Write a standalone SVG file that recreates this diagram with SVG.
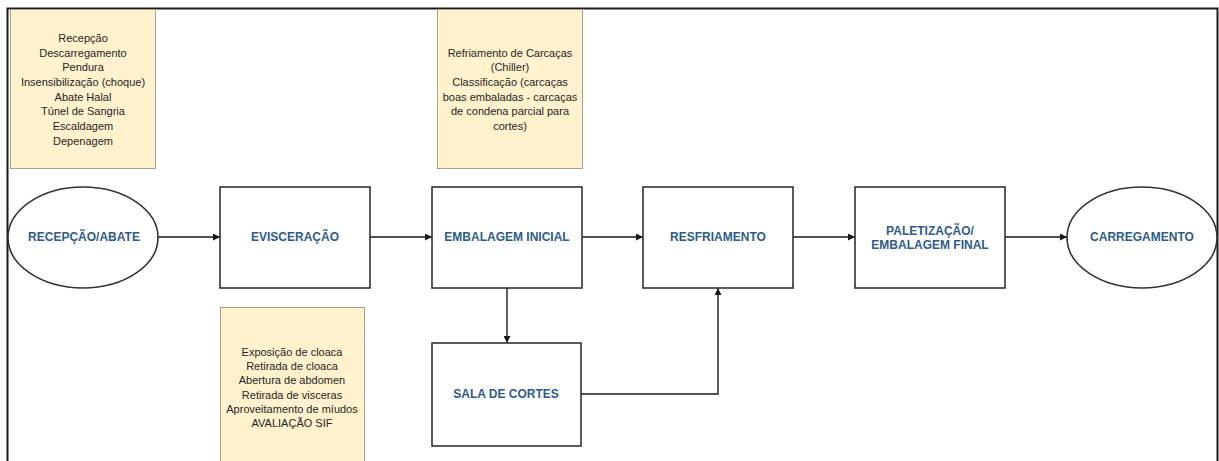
<svg xmlns="http://www.w3.org/2000/svg" width="1219" height="461" viewBox="0 0 1219 461">
<style>
.note{fill:#FFF2CC;stroke:#A6A08E;stroke-width:1}
.nt{font-family:"Liberation Sans",Arial,sans-serif;font-size:11px;fill:#262626;text-anchor:middle}
.box{fill:#FFFFFF;stroke:#333333;stroke-width:1.6}
.lbl{font-family:"Liberation Sans",Arial,sans-serif;font-size:12px;font-weight:bold;fill:#2F5B8A;text-anchor:middle}
.con{fill:none;stroke:#1A1A1A;stroke-width:1.4}
.frame{fill:none;stroke:#1A1A1A;stroke-width:2}
</style>
<defs>
<marker id="arr" viewBox="0 0 10 10" refX="10" refY="5" markerWidth="7" markerHeight="7" markerUnits="userSpaceOnUse" orient="auto">
<path d="M0,0 L10,5 L0,10 z" fill="#1A1A1A"/>
</marker>
</defs>
<rect width="1219" height="461" fill="#FFFFFF"/>
<g id="frame">
<path class="frame" d="M7.5,461 L7.5,8.5 L1217.5,8.5 L1217.5,461"/>
</g>
<g id="note-recepcao">
<rect class="note" x="10.5" y="9.5" width="145" height="159"/>
<text class="nt" x="83" y="42">Recepção</text>
<text class="nt" x="83" y="57">Descarregamento</text>
<text class="nt" x="83" y="71">Pendura</text>
<text class="nt" x="83" y="86">Insensibilização (choque)</text>
<text class="nt" x="83" y="101">Abate Halal</text>
<text class="nt" x="83" y="115">Túnel de Sangria</text>
<text class="nt" x="83" y="130">Escaldagem</text>
<text class="nt" x="83" y="145">Depenagem</text>
</g>
<g id="note-embalagem">
<rect class="note" x="437.5" y="9.5" width="145" height="159"/>
<text class="nt" x="510" y="57">Refriamento de Carcaças</text>
<text class="nt" x="510" y="71">(Chiller)</text>
<text class="nt" x="510" y="86">Classificação (carcaças</text>
<text class="nt" x="510" y="101">boas embaladas - carcaças</text>
<text class="nt" x="510" y="115">de condena parcial para</text>
<text class="nt" x="510" y="130">cortes)</text>
</g>
<g id="note-evisceracao">
<rect class="note" x="220.5" y="307.5" width="144" height="160"/>
<text class="nt" x="292" y="356">Exposição de cloaca</text>
<text class="nt" x="292" y="370">Retirada de cloaca</text>
<text class="nt" x="292" y="384">Abertura de abdomen</text>
<text class="nt" x="292" y="399">Retirada de visceras</text>
<text class="nt" x="292" y="413">Aproveitamento de míudos</text>
<text class="nt" x="292" y="427">AVALIAÇÃO SIF</text>
</g>
<g id="connectors">
<line class="con" x1="158" y1="237" x2="220" y2="237" marker-end="url(#arr)"/>
<line class="con" x1="370" y1="237" x2="432" y2="237" marker-end="url(#arr)"/>
<line class="con" x1="582" y1="237" x2="643" y2="237" marker-end="url(#arr)"/>
<line class="con" x1="793" y1="237" x2="855" y2="237" marker-end="url(#arr)"/>
<line class="con" x1="1005" y1="237" x2="1067" y2="237" marker-end="url(#arr)"/>
<line class="con" x1="507" y1="288" x2="507" y2="343" marker-end="url(#arr)"/>
<polyline class="con" points="581,394 718,394 718,288" marker-end="url(#arr)"/>
</g>
<g id="recepcao-abate">
<ellipse class="box" cx="83" cy="237.5" rx="75" ry="50.5"/>
<text class="lbl" x="84" y="241">RECEPÇÃO/ABATE</text>
</g>
<g id="evisceracao">
<rect class="box" x="220" y="187" width="150" height="101"/>
<text class="lbl" x="295" y="241">EVISCERAÇÃO</text>
</g>
<g id="embalagem-inicial">
<rect class="box" x="432" y="187" width="150" height="101"/>
<text class="lbl" x="507" y="241">EMBALAGEM INICIAL</text>
</g>
<g id="resfriamento">
<rect class="box" x="643" y="187" width="150" height="101"/>
<text class="lbl" x="718" y="241">RESFRIAMENTO</text>
</g>
<g id="paletizacao">
<rect class="box" x="855" y="187" width="150" height="101"/>
<text class="lbl" x="930" y="235">PALETIZAÇÃO/</text>
<text class="lbl" x="930" y="249">EMBALAGEM FINAL</text>
</g>
<g id="carregamento">
<ellipse class="box" cx="1142" cy="237.5" rx="75" ry="50.5"/>
<text class="lbl" x="1142" y="241">CARREGAMENTO</text>
</g>
<g id="sala-de-cortes">
<rect class="box" x="432" y="343" width="149" height="103"/>
<text class="lbl" x="506" y="398">SALA DE CORTES</text>
</g>
</svg>
